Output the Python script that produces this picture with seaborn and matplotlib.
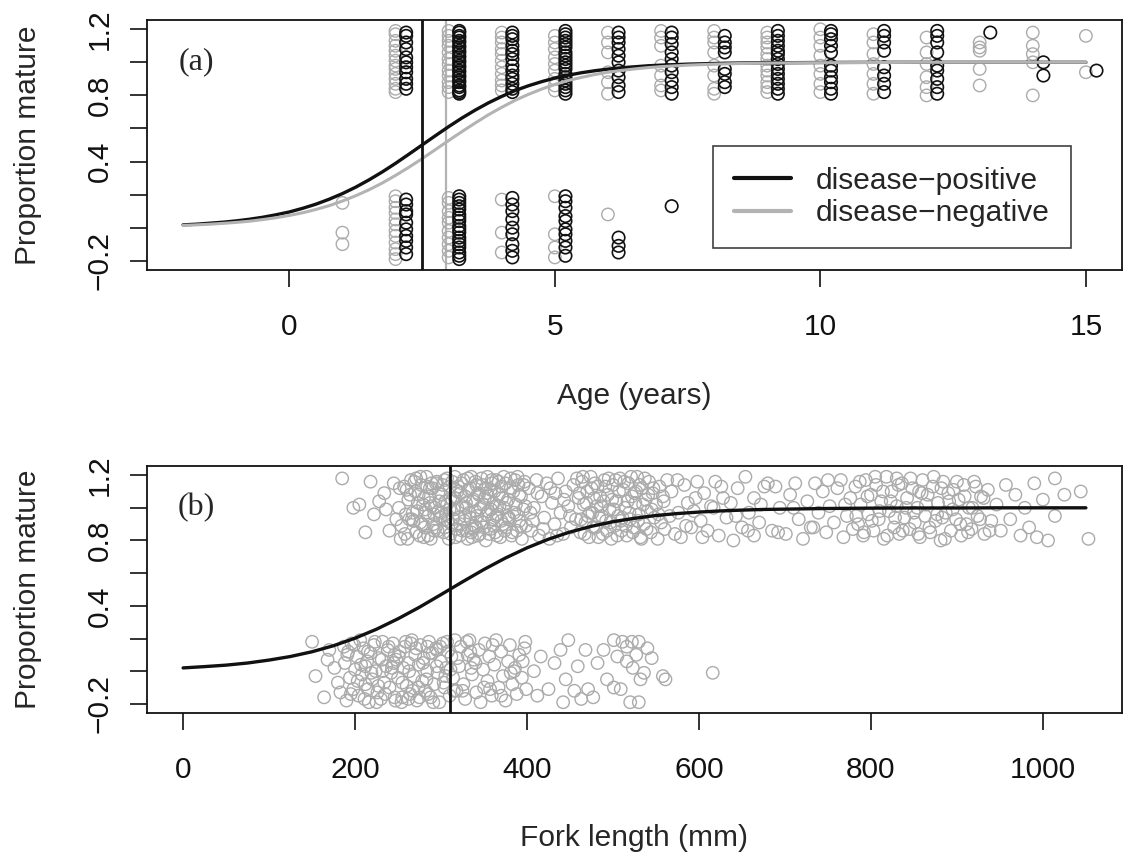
import pandas as pd
import matplotlib
matplotlib.use("Agg")
import matplotlib.pyplot as plt
import seaborn as sns

# (a) maturity (jittered 0/1) against age, columns by age
neg_x = [1, 2, 3, 4, 5, 6, 7, 8, 9, 10, 11, 12, 13, 14, 15]
neg_y = [
    [0.15, -0.03, -0.1],
    [1.19, 1.17, 1.13, 1.1, 1.07, 1.04, 1.01, 0.98, 0.96, 0.93, 0.9, 0.87, 0.84, 0.82,
     0.19, 0.16, 0.12, 0.09, 0.05, 0.02, -0.02, -0.05, -0.09, -0.13, -0.16, -0.19],
    [1.19, 1.16, 1.13, 1.1, 1.06, 1.02, 0.99, 0.95, 0.92, 0.88, 0.85, 0.82,
     0.18, 0.15, 0.1, 0.06, 0.03, -0.02, -0.06, -0.1, -0.14, -0.18],
    [1.18, 1.15, 1.12, 1.08, 1.05, 1.01, 0.97, 0.93, 0.89, 0.86, 0.83, 0.17, -0.03, -0.15],
    [1.16, 1.12, 1.08, 1.03, 0.99, 0.95, 0.9, 0.86, 0.83, 0.19, -0.04, -0.12, -0.18],
    [1.18, 1.12, 1.06, 0.94, 0.88, 0.81, 0.08],
    [1.19, 1.15, 1.1, 0.98, 0.92, 0.86, 0.83],
    [1.19, 1.15, 1.12, 1.06, 0.98, 0.92, 0.84, 0.81],
    [1.18, 1.15, 1.12, 1.09, 1.05, 1.02, 0.98, 0.95, 0.92, 0.88, 0.85, 0.82],
    [1.2, 1.15, 1.1, 1.04, 0.98, 0.93, 0.87, 0.82],
    [1.17, 1.12, 1.05, 0.99, 0.93, 0.87, 0.81],
    [1.15, 1.06, 0.99, 0.91, 0.85, 0.8],
    [1.12, 1.09, 1.07, 0.96, 0.86],
    [1.18, 1.1, 1.05, 1.0, 0.8],
    [1.16, 0.94],
]
pos_x = [2.2, 3.2, 4.2, 5.2, 6.2, 7.2, 8.2, 9.2, 10.2, 11.2, 12.2, 13.2, 14.2, 15.2]
pos_y = [
    [1.18, 1.16, 1.12, 1.08, 1.03, 1.0, 0.97, 0.94, 0.9, 0.87, 0.84,
     0.17, 0.14, 0.1, 0.08, 0.03, -0.01, -0.05, -0.08, -0.12, -0.16],
    [1.19, 1.18, 1.16, 1.15, 1.13, 1.12, 1.1, 1.09, 1.07, 1.06, 1.04, 1.03, 1.01, 1.0,
     0.98, 0.97, 0.95, 0.94, 0.92, 0.91, 0.89, 0.88, 0.86, 0.85, 0.83, 0.82, 0.81,
     0.19, 0.17, 0.15, 0.13, 0.11, 0.08, 0.06, 0.04, 0.01, -0.01, -0.03, -0.06,
     -0.08, -0.1, -0.12, -0.15, -0.17, -0.19],
    [1.18, 1.16, 1.14, 1.1, 1.07, 1.05, 1.02, 0.98, 0.95, 0.92, 0.9, 0.87, 0.84, 0.82,
     0.18, 0.14, 0.1, 0.05, 0.0, -0.04, -0.1, -0.14, -0.18],
    [1.19, 1.17, 1.15, 1.13, 1.11, 1.09, 1.06, 1.04, 1.02, 1.0, 0.98, 0.96, 0.93, 0.91,
     0.89, 0.87, 0.85, 0.83, 0.81,
     0.19, 0.16, 0.12, 0.07, 0.04, -0.01, -0.04, -0.08, -0.12, -0.17],
    [1.18, 1.15, 1.12, 1.08, 1.04, 1.0, 0.95, 0.91, 0.86, 0.82, -0.06, -0.11, -0.15],
    [1.18, 1.15, 1.11, 1.06, 1.02, 0.98, 0.94, 0.89, 0.85, 0.81, 0.13],
    [1.16, 1.12, 1.09, 1.06, 0.96, 0.93, 0.88, 0.85],
    [1.19, 1.16, 1.13, 1.1, 1.07, 1.05, 1.02, 0.99, 0.96, 0.93, 0.9, 0.87, 0.84, 0.81],
    [1.19, 1.17, 1.14, 1.1, 1.06, 0.98, 0.95, 0.91, 0.88, 0.84, 0.81],
    [1.19, 1.16, 1.12, 1.07, 0.97, 0.92, 0.87, 0.82],
    [1.19, 1.16, 1.12, 1.06, 0.98, 0.95, 0.9, 0.85, 0.81],
    [1.18],
    [1.0, 0.92],
    [0.95],
]

# fitted maturity curves
curve_age = [-2, -1.75, -1.5, -1.25, -1, -0.75, -0.5, -0.25, 0, 0.25, 0.5, 0.75, 1, 1.25,
             1.5, 1.75, 2, 2.25, 2.5, 2.75, 3, 3.25, 3.5, 3.75, 4, 4.25, 4.5, 4.75, 5,
             5.25, 5.5, 5.75, 6, 6.25, 6.5, 6.75, 7, 7.5, 8, 8.5, 9, 9.5, 10, 11, 12, 13,
             14, 15]
pos_curve = [0.017, 0.021, 0.027, 0.033, 0.041, 0.051, 0.063, 0.078, 0.095, 0.117, 0.142,
             0.172, 0.206, 0.245, 0.289, 0.337, 0.389, 0.444, 0.5, 0.556, 0.611, 0.663,
             0.711, 0.755, 0.794, 0.829, 0.858, 0.883, 0.905, 0.922, 0.937, 0.949, 0.959,
             0.967, 0.973, 0.979, 0.983, 0.989, 0.993, 0.996, 0.997, 0.998, 0.999, 1.0,
             1.0, 1.0, 1.0, 1.0]
neg_curve = [0.014, 0.017, 0.021, 0.026, 0.032, 0.039, 0.049, 0.06, 0.074, 0.09, 0.11,
             0.133, 0.161, 0.193, 0.229, 0.27, 0.316, 0.365, 0.417, 0.472, 0.527, 0.581,
             0.633, 0.683, 0.728, 0.77, 0.806, 0.838, 0.866, 0.89, 0.909, 0.926, 0.94,
             0.951, 0.96, 0.968, 0.974, 0.983, 0.989, 0.993, 0.995, 0.997, 0.998, 0.999,
             1.0, 1.0, 1.0, 1.0]
a50_pos = 2.5
a50_neg = 2.95

# (b) maturity against fork length (mm)
mat_len = [185, 218, 234, 245, 205, 198, 222, 212, 240, 253, 228, 248, 236, 252,
           258, 262, 265, 268, 270, 272, 275, 277, 279, 281, 283, 285, 286, 288, 290, 291,
           293, 295, 296, 298, 299, 260, 267, 274, 280, 287, 294, 263, 271, 284, 292, 297,
           276, 289, 282,
           301, 303, 304, 306, 307, 309, 310, 312, 313, 315, 316, 318, 319, 321, 322, 324,
           325, 327, 328, 330, 331, 333, 334, 336, 337, 339, 340, 342, 343, 345, 346, 348,
           349, 351, 352, 354, 355, 357, 358, 360, 361, 363, 364, 366, 367, 369, 370, 372,
           373, 375, 376, 378, 379, 381, 382, 384, 385, 387, 388, 390, 391, 393, 394, 396,
           397, 399, 305, 317, 329, 341, 353, 365, 377, 389, 311, 335, 359,
           402, 405, 408, 411, 414, 417, 420, 423, 426, 429, 432, 436, 439, 442, 445, 448,
           451, 454, 457, 460, 407, 433,
           462, 464, 466, 468, 470, 472, 474, 476, 478, 480, 482, 484, 486, 488, 490, 492,
           494, 496, 498, 500, 502, 504, 506, 508, 510, 512, 514, 516, 518, 520, 522, 524,
           526, 528, 530, 532, 534, 536, 538, 540, 542, 544, 546, 548, 550, 552, 554, 556,
           558, 560, 563, 471, 489, 509, 527, 545,
           568, 572, 576, 579, 583, 587, 591, 594, 598, 602, 606, 610, 614, 619, 623, 628,
           632, 637, 640, 645, 650, 654, 658, 664, 664, 670, 676, 680, 685, 689, 694,
           701, 706, 712, 716, 721, 726, 730, 735, 739, 744, 748, 752, 757, 761, 765, 768,
           772, 776, 779,
           782, 785, 788, 791, 794, 797, 800, 803, 806, 809, 812, 815, 818, 821, 824, 827,
           830, 833, 836, 839, 842, 845, 848, 851, 854, 857, 860, 863, 866, 869, 872, 875,
           878, 881, 884, 887, 890, 893, 896, 899, 902, 905, 908, 911, 914, 917, 920, 924,
           928, 932, 936, 940, 856, 883, 830,
           946, 951, 957, 962, 968, 974, 979, 984, 990, 993, 1006, 1014, 1014, 1025, 1044,
           1053, 1000,
           251, 254, 257, 259, 261, 264, 266, 269, 271, 273, 276, 278, 280, 282, 285, 287,
           289, 292, 294, 297,
           300, 302, 304, 305, 307, 308, 310, 311, 313, 314, 316, 317, 319, 320, 322, 323,
           325, 326, 328, 329, 331, 332, 334, 335, 337, 338, 340, 341, 343, 344, 346, 347,
           349, 350, 352, 353, 355, 356, 358, 359, 361, 362, 364, 365, 367, 368, 370, 371,
           373, 374, 376, 379, 381, 383, 386, 388, 391, 393, 396, 398,
           404, 412, 419, 427, 435, 443, 450, 458,
           461, 463, 465, 467, 469, 473, 475, 477, 479, 481, 483, 485, 487, 491, 493, 495,
           497, 499, 501, 503, 505, 507, 511, 513, 515, 517, 519, 521, 523, 525, 529, 531,
           533, 535, 537, 539, 541, 547, 553, 559,
           783, 787, 792, 796, 801, 805, 810, 814, 819, 823, 828, 832, 837, 841, 846, 850,
           855, 859, 864, 868, 873, 877, 882, 886, 891, 895, 900, 904, 909, 913, 918, 922,
           927, 931, 938,
           566, 575, 585, 596, 604, 617, 626, 643, 657, 672, 692, 710, 733, 750, 770]
mat_y = [1.18, 1.16, 1.09, 1.15, 1.02, 1.0, 0.96, 0.85, 0.86, 0.81, 1.04, 0.93, 0.99, 1.12,
         0.84, 1.05, 1.17, 0.92, 1.1, 0.98, 0.83, 1.14, 1.02, 0.88, 1.19, 0.95, 1.07, 0.81,
         1.12, 0.9, 1.0, 1.16, 0.86, 1.04, 0.94, 1.11, 0.97, 1.08, 0.82, 1.03, 0.88, 0.93,
         1.18, 1.13, 0.96, 1.09, 0.91, 1.15, 0.99,
         1.08, 0.85, 1.17, 0.96, 1.02, 0.81, 1.13, 0.9, 1.05, 0.99, 1.19, 0.87, 1.1, 0.94,
         0.83, 1.15, 1.01, 0.92, 1.07, 0.86, 1.18, 0.97, 1.12, 0.82, 1.04, 0.89, 1.16, 0.95,
         1.09, 0.84, 1.0, 1.14, 0.91, 1.06, 0.8, 1.19, 0.98, 0.87, 1.11, 0.93, 1.03, 0.85,
         1.17, 0.96, 1.08, 0.82, 1.13, 0.9, 1.0, 1.15, 0.88, 1.05, 0.94, 1.18, 0.83, 1.1,
         0.97, 1.02, 0.86, 1.14, 0.92, 1.07, 0.81, 0.99, 1.16, 0.89, 0.93, 1.11, 1.0, 0.88,
         1.09, 1.01, 0.95, 1.19, 1.06, 0.85, 1.17,
         1.12, 0.86, 1.0, 1.17, 0.83, 1.07, 0.94, 1.15, 0.81, 1.03, 0.9, 1.18, 0.97, 0.84,
         1.1, 1.01, 0.88, 1.14, 0.93, 1.06, 0.92, 1.09,
         0.85, 1.16, 1.02, 0.91, 1.1, 0.82, 1.19, 0.97, 1.06, 0.88, 1.13, 0.94, 1.01, 0.84,
         1.17, 0.92, 1.08, 0.99, 0.81, 1.14, 0.89, 1.04, 0.95, 1.18, 0.86, 1.11, 1.0, 0.83,
         1.15, 0.93, 1.07, 0.88, 1.03, 1.19, 0.96, 0.82, 1.12, 0.9, 1.05, 0.98, 1.16, 0.85,
         1.09, 0.94, 1.02, 0.81, 1.13, 0.91, 1.07, 0.87, 1.17, 0.95, 1.04, 0.92, 1.1, 0.99,
         1.1, 0.84, 0.97, 0.82, 1.14, 1.03, 0.88, 0.98, 1.16, 0.92, 1.09, 0.86, 1.01, 1.16,
         0.83, 1.06, 0.94, 1.03, 0.8, 1.12, 0.88, 1.19, 0.97, 1.06, 0.83, 0.91, 1.13, 1.15,
         0.86, 1.13, 1.0,
         0.84, 1.08, 1.15, 0.93, 0.81, 1.04, 0.88, 1.15, 0.97, 1.1, 0.85, 1.01, 0.91, 1.12,
         1.17, 0.82, 0.95, 1.06, 0.87,
         1.13, 0.9, 1.02, 0.83, 1.17, 0.96, 1.08, 0.86, 1.14, 0.93, 1.04, 0.81, 1.19, 0.98,
         1.1, 0.88, 1.01, 0.84, 1.15, 0.94, 1.06, 0.87, 1.12, 0.91, 1.0, 0.82, 1.17, 0.95,
         1.08, 0.85, 1.13, 0.92, 1.03, 0.8, 1.16, 0.97, 1.09, 0.86, 1.11, 0.93, 1.05, 0.83,
         1.14, 0.9, 1.0, 0.87, 1.16, 0.95, 1.07, 0.84, 1.11, 0.92, 1.1, 0.94, 1.18,
         1.02, 0.86, 1.14, 0.93, 1.08, 0.83, 1.0, 0.88, 1.15, 0.82, 0.8, 1.18, 0.95, 1.08,
         1.1, 0.81, 1.05,
         1.0, 0.89, 1.13, 0.96, 0.81, 1.08, 0.93, 1.16, 0.85, 1.03, 1.19, 0.9, 1.06, 0.97,
         0.83, 1.12, 1.01, 0.86, 1.15, 0.98,
         0.97, 1.14, 0.88, 1.04, 1.18, 0.92, 0.99, 0.84, 1.16, 0.93, 1.06, 0.82, 1.0, 1.13,
         0.9, 1.09, 0.86, 1.17, 0.95, 1.03, 0.81, 1.11, 0.94, 1.19, 0.87, 1.05, 0.98, 1.14,
         0.83, 1.08, 0.92, 1.18, 1.02, 0.88, 1.12, 0.96, 1.07, 0.84, 0.99, 1.15, 0.89, 1.1,
         0.95, 0.83, 1.16, 1.01, 0.92, 1.06, 1.19, 0.86, 1.03, 0.93, 1.12, 0.85, 1.17, 0.96,
         1.08, 0.89, 1.14, 1.01,
         0.97, 1.09, 0.87, 1.12, 0.83, 1.05, 0.95, 1.18,
         1.09, 0.93, 1.19, 0.84, 1.03, 0.97, 1.12, 0.88, 1.15, 1.01, 0.82, 1.07, 0.95, 1.13,
         0.86, 1.18, 0.91, 1.05, 0.99, 1.17, 0.83, 1.1, 0.94, 1.16, 0.89, 1.04, 0.97, 1.19,
         0.85, 1.09, 0.92, 1.14, 0.81, 1.02, 1.18, 0.87, 1.08, 1.12, 0.96, 1.04,
         0.95, 1.16, 0.85, 1.07, 0.92, 1.19, 0.98, 1.1, 0.83, 1.04, 0.94, 1.14, 0.86, 1.0,
         1.18, 0.97, 0.84, 1.09, 1.02, 0.88, 1.19, 0.96, 1.12, 0.81, 1.04, 0.99, 1.16, 0.9,
         1.07, 0.85, 1.0, 1.13, 0.93, 1.06, 0.86,
         0.95, 1.17, 0.89, 1.06, 0.82, 1.0, 1.13, 0.95, 0.86, 1.02, 0.85, 1.0, 0.88, 1.17,
         1.02]
imm_len = [150, 170, 154, 168, 164, 180, 187, 176, 183,
           188, 190, 192, 194, 196, 198, 200, 202, 204, 206, 208, 210, 212, 214, 216, 218,
           220, 222, 224, 226, 228, 230, 232, 234, 236, 238, 240, 242, 244, 246, 248, 250,
           252, 254, 256, 258, 260, 262, 264, 266, 268, 270, 272, 274, 276, 278, 280, 282,
           284, 286, 288, 290, 292, 294, 296, 298, 300, 302, 304, 306, 308, 310, 312, 314,
           316, 318, 232, 262, 284, 246, 212, 274,
           321, 323, 326, 328, 331, 333, 336, 338, 341, 344, 346, 349, 351, 354, 356, 359,
           362, 364, 367, 370, 372, 375, 378, 380, 383, 386, 388, 391, 394, 397, 399, 334,
           357, 381,
           398, 416, 425, 442, 439, 448, 445, 459, 468, 471, 477, 482, 489, 493, 501, 505,
           511, 516, 522, 530, 516, 523, 532, 536, 501, 509, 520, 530, 558, 561, 408, 432,
           412, 455, 527, 540, 545, 463,
           616,
           191, 195, 199, 203, 207, 211, 215, 219, 223, 227, 231, 235, 239, 243, 247, 251,
           255, 259, 263, 267, 271, 275, 279, 283, 287, 291, 295, 299, 303, 307, 311, 315,
           319, 225, 245, 265, 285, 305, 325, 330, 340, 350, 360, 370, 385, 395, 215, 255,
           295, 335]
imm_y = [0.18, 0.13, -0.03, 0.07, -0.16, -0.07, 0.15, 0.02, -0.13,
         0.05, -0.18, 0.12, -0.04, 0.17, -0.11, 0.01, 0.09, -0.15, 0.19, -0.02, 0.14, -0.08,
         0.06, -0.19, 0.11, -0.05, 0.16, 0.0, -0.13, 0.08, -0.17, 0.18, -0.07, 0.03, 0.13,
         -0.1, -0.01, 0.17, -0.16, 0.07, -0.04, 0.12, -0.19, 0.02, 0.15, -0.09, 0.05, -0.14,
         0.19, -0.03, 0.1, -0.18, 0.04, 0.16, -0.06, 0.08, -0.12, 0.0, 0.18, -0.16, 0.11,
         -0.08, 0.14, -0.01, -0.19, 0.06, 0.17, -0.1, 0.02, 0.12, -0.15, 0.09, -0.04, 0.19,
         -0.12, 0.0, -0.17, 0.15, 0.1, 0.03, -0.1,
         0.03, 0.15, -0.08, -0.17, 0.1, 0.19, -0.02, 0.07, -0.13, 0.13, -0.19, 0.01, 0.17,
         -0.06, 0.09, -0.15, 0.04, 0.19, -0.1, 0.12, -0.03, -0.18, 0.06, 0.16, -0.08, 0.02,
         -0.14, 0.1, -0.04, 0.14, -0.11, 0.12, -0.11, -0.01,
         0.18, 0.09, -0.11, -0.19, 0.13, 0.19, -0.05, 0.03, 0.13, -0.11, -0.16, 0.05, 0.13,
         -0.05, 0.19, 0.09, 0.18, 0.15, 0.18, 0.18, 0.06, 0.02, -0.05, -0.01, -0.1, -0.11,
         -0.19, -0.19, -0.03, -0.05, 0.0, 0.05, -0.15, -0.12, 0.1, 0.14, 0.08, -0.17,
         -0.01,
         0.1, -0.14, 0.16, -0.06, 0.04, -0.17, 0.12, -0.01, 0.18, -0.09, 0.07, -0.14, 0.15,
         0.02, -0.18, 0.09, -0.07, 0.18, 0.0, -0.12, 0.14, -0.16, 0.05, -0.05, 0.11, -0.19,
         0.03, 0.15, -0.07, 0.18, 0.01, -0.12, 0.08, -0.19, 0.05, 0.17, -0.14, -0.03, -0.12,
         0.18, 0.05, -0.1, 0.16, -0.15, 0.0, 0.06, -0.11, -0.16, 0.13, 0.02]
len_grid = [0, 25, 50, 75, 100, 125, 150, 175, 200, 225, 250, 275, 300, 325, 350, 375,
            400, 425, 450, 475, 500, 525, 550, 575, 600, 625, 650, 675, 700, 750, 800, 850,
            900, 950, 1000, 1050]
len_curve = [0.02, 0.028, 0.037, 0.05, 0.068, 0.09, 0.119, 0.156, 0.202, 0.257, 0.321,
             0.392, 0.469, 0.547, 0.623, 0.693, 0.755, 0.808, 0.852, 0.887, 0.915, 0.936,
             0.953, 0.965, 0.974, 0.981, 0.986, 0.99, 0.992, 0.996, 0.998, 0.999, 0.999,
             1.0, 1.0, 1.0]
l50 = 310


def explode(xs, ys):
    rows = [(x, y) for x, col in zip(xs, ys) for y in col]
    return pd.DataFrame(rows, columns=["x", "y"])


df_neg = explode(neg_x, neg_y)
df_pos = explode(pos_x, pos_y)
df_len = pd.DataFrame({"x": mat_len + imm_len, "y": mat_y + imm_y})

sns.set_style("ticks")
plt.rcParams["font.family"] = ["Liberation Sans", "DejaVu Sans"]

BLACK = "#111111"
GRAY = "#ababab"
LGRAY = "#b3b3b3"
FS = 21.5

fig = plt.figure(figsize=(11.27, 8.6), dpi=100)
ax1 = fig.add_axes([147 / 1127, 1 - 270 / 860, 975 / 1127, 250 / 860])
ax2 = fig.add_axes([147 / 1127, 1 - 713 / 860, 975 / 1127, 247 / 860])

# panel (a)
sns.scatterplot(data=df_neg, x="x", y="y", ax=ax1, marker="o", s=80,
                facecolor="none", edgecolor=GRAY, linewidth=1.0, legend=False, zorder=2)
sns.scatterplot(data=df_pos, x="x", y="y", ax=ax1, marker="o", s=80,
                facecolor="none", edgecolor=BLACK, linewidth=1.2, legend=False, zorder=3)
sns.lineplot(x=curve_age, y=pos_curve, ax=ax1, color=BLACK, lw=2.4, zorder=4)
sns.lineplot(x=curve_age, y=neg_curve, ax=ax1, color=LGRAY, lw=2.2, zorder=4)
ax1.axvline(a50_pos, color=BLACK, lw=2.0, zorder=5)
ax1.axvline(a50_neg, color=LGRAY, lw=1.6, zorder=1)
ax1.set_xlim(-2.68, 15.68)
ax1.set_xticks([0, 5, 10, 15])
ax1.set_xlabel("Age (years)", fontsize=FS)
ax1.text(0.032, 0.832, "(a)", transform=ax1.transAxes, fontsize=23,
         family="Liberation Serif", ha="left", va="center")

handles = [plt.Line2D([], [], color=BLACK, lw=3.0),
           plt.Line2D([], [], color=LGRAY, lw=3.0)]
leg = ax1.legend(handles, ["disease\u2212positive", "disease\u2212negative"],
                 loc="upper left", bbox_to_anchor=(0.5805, 0.496), borderaxespad=0,
                 fontsize=FS, frameon=True, fancybox=False, edgecolor=BLACK,
                 handlelength=1.9, handletextpad=0.85, borderpad=0.7, labelspacing=0.15)
leg.get_frame().set_linewidth(1.2)

# panel (b)
sns.scatterplot(data=df_len, x="x", y="y", ax=ax2, marker="o", s=80,
                facecolor="none", edgecolor=GRAY, linewidth=1.0, legend=False, zorder=2)
sns.lineplot(x=len_grid, y=len_curve, ax=ax2, color=BLACK, lw=2.4, zorder=4)
ax2.axvline(l50, color=BLACK, lw=2.0, zorder=5)
ax2.set_xlim(-42, 1092)
ax2.set_xticks([0, 200, 400, 600, 800, 1000])
ax2.set_xlabel("Fork length (mm)", fontsize=FS)
ax2.text(0.031, 0.833, "(b)", transform=ax2.transAxes, fontsize=23,
         family="Liberation Serif", ha="left", va="center")

for ax in (ax1, ax2):
    ax.set_ylim(-0.256, 1.256)
    ax.set_yticks([-0.2, 0.0, 0.2, 0.4, 0.6, 0.8, 1.0, 1.2])
    ax.set_yticklabels(["\u22120.2", "", "", "0.4", "", "0.8", "", "1.2"],
                       rotation=90, va="center")
    ax.set_ylabel("Proportion mature", fontsize=FS)
    ax.yaxis.set_label_coords(-0.122, 0.5)
    ax.yaxis.label.set_va("center")
    ax.xaxis.set_label_coords(0.5, -0.505)
    ax.xaxis.label.set_va("center")
    ax.tick_params(axis="both", direction="out", length=12, width=1.2,
                   labelsize=FS, color=BLACK, labelcolor=BLACK)
    ax.tick_params(axis="x", pad=19)
    ax.tick_params(axis="y", pad=12)
    for sp in ax.spines.values():
        sp.set_visible(True)
        sp.set_color(BLACK)
        sp.set_linewidth(1.3)

fig.savefig("out.png", dpi=100)
